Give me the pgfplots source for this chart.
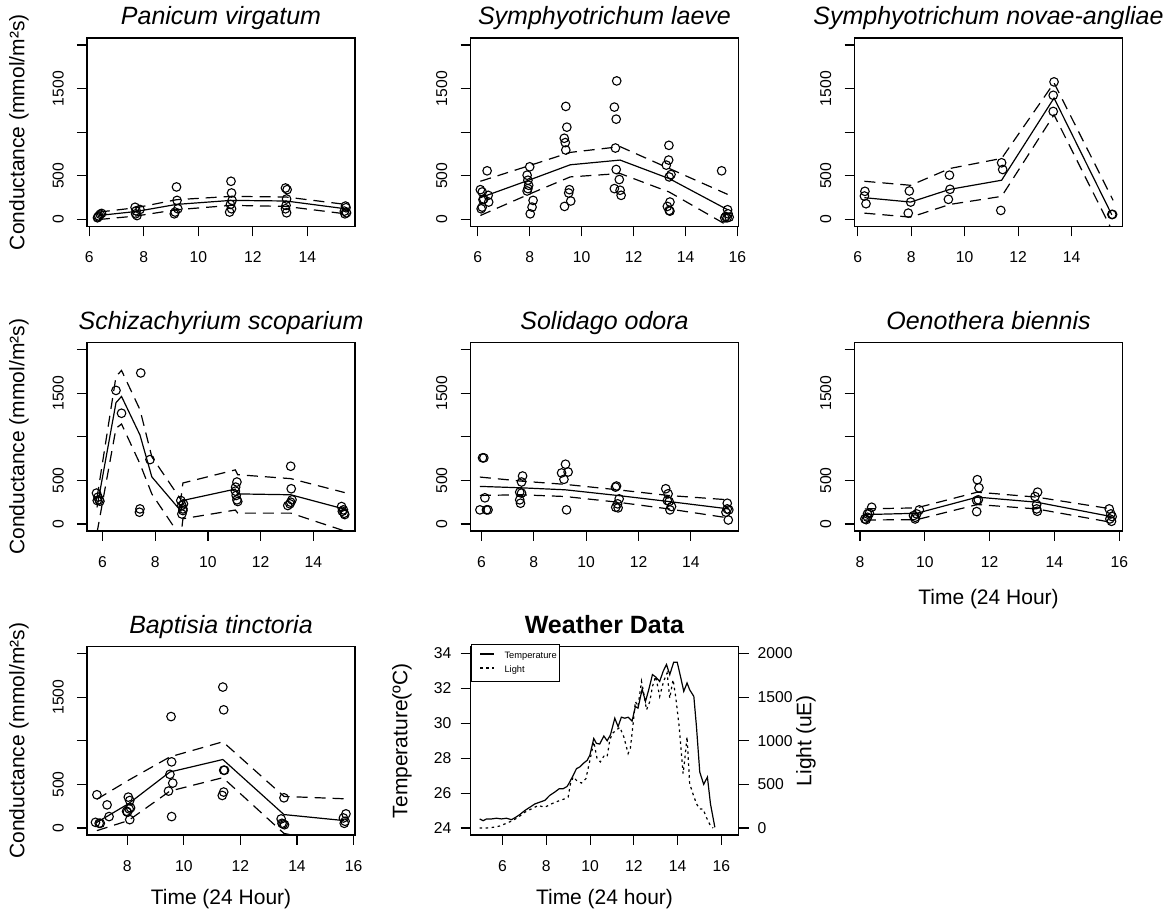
\documentclass[border=0pt]{standalone}
\usepackage{fontspec}
\setmainfont{Liberation Sans}
\usepackage{pgfplots}
\pgfplotsset{compat=1.18}

\pgfplotsset{
  rbase/.style={
    scale only axis, width=268pt, height=188.5pt,
    axis line style={line width=1.1pt},
    every tick/.style={black, line width=1.1pt},
    tick align=outside, tick pos=left, major tick length=10pt,
    /pgf/number format/assume math mode=true,
    /pgf/number format/1000 sep={},
    tick label style={font=\fontsize{15.7}{18}\selectfont},
    xticklabel style={anchor=base, inner sep=0pt},
    xticklabel shift=26.5pt,
    label style={font=\fontsize{21}{25}\selectfont},
  },
  cond/.style={rbase,
    ymin=-80, ymax=2080,
    ytick={0,500,1000,1500,2000}, yticklabels={0,500,,1500,},
    yticklabel style={rotate=90, anchor=south, inner sep=0pt},
    yticklabel shift=13pt,
    title style={at={(axis description cs:0.5,1)}, anchor=base, yshift=7pt,
                 font=\fontsize{25}{30}\selectfont\itshape},
  },
  condlab/.style={ylabel={Conductance (mmol/m²s)},
    ylabel style={at={(axis description cs:-0.2537,0.5)}, anchor=center}},
  timelab/.style={xlabel={Time (24 Hour)},
    xlabel style={at={(axis description cs:0.5,#1)}, anchor=center}},
  pts/.style={black, only marks, mark=o, mark size=4.3pt, mark options={line width=1.1pt}},
  fit/.style={black, line width=1.2pt, no marks},
  ci/.style={black, line width=1.2pt, no marks, dash pattern=on 11pt off 7pt},
}

\begin{document}
\begin{tikzpicture}
\useasboundingbox (0pt,0pt) rectangle (1167pt,917pt);

% ---------------- Panicum virgatum
\begin{axis}[cond, condlab, at={(87pt,690.5pt)}, anchor=south west,
  xmin=5.916, xmax=15.75, xtick={6,8,...,14}, title={Panicum virgatum}]
\addplot[pts] coordinates {(6.30,20) (6.35,40) (6.40,60) (6.45,70) (6.32,30)
 (7.68,140) (7.72,100) (7.70,65) (7.75,45) (7.86,115)
 (9.20,373) (9.22,219) (9.25,123) (9.15,85) (9.12,65)
 (11.20,438) (11.22,304) (11.24,219) (11.18,173) (11.22,123) (11.15,85)
 (13.20,361) (13.26,342) (13.24,235) (13.22,162) (13.20,123) (13.24,77)
 (15.40,154) (15.42,135) (15.36,96) (15.44,77) (15.38,65)};
\addplot[fit] coordinates {(6.35,46) (7.72,92) (9.2,173) (11.2,219) (13.22,212) (15.4,123)};
\addplot[ci] coordinates {(6.35,85) (7.72,135) (9.2,227) (11.2,265) (13.22,258) (15.4,173)};
\addplot[ci] coordinates {(6.35,0) (7.72,40) (9.2,112) (11.2,162) (13.22,150) (15.4,65)};
\end{axis}

% ---------------- Symphyotrichum laeve
\begin{axis}[cond, at={(470.5pt,690.5pt)}, anchor=south west,
  xmin=5.72, xmax=16.04, xtick={6,8,...,16}, title={Symphyotrichum laeve}]
\addplot[pts] coordinates {(6.10,342) (6.17,315) (6.36,558) (6.40,277) (6.42,200) (6.20,227) (6.23,235) (6.17,142) (6.13,123)
 (8.00,604) (7.90,508) (7.93,450) (7.96,392) (7.93,354) (7.90,327) (8.13,219) (8.09,142) (8.02,65)
 (9.39,1296) (9.43,1058) (9.33,931) (9.37,881) (9.39,796) (9.53,342) (9.50,304) (9.58,212) (9.34,150)
 (11.35,1588) (11.26,1288) (11.33,1150) (11.30,819) (11.33,573) (11.45,458) (11.26,354) (11.48,335) (11.52,277)
 (13.36,850) (13.35,681) (13.26,623) (13.44,515) (13.37,488) (13.40,200) (13.30,150) (13.37,104) (13.40,96)
 (15.39,558) (15.62,112) (15.64,65) (15.55,35) (15.60,19) (15.68,27) (15.51,19)};
\addplot[fit] coordinates {(6.10,250) (7.96,450) (9.56,627) (11.48,681) (13.37,469) (15.62,112)};
\addplot[ci] coordinates {(6.10,438) (7.96,615) (9.56,769) (11.48,835) (13.37,585) (15.62,288)};
\addplot[ci] coordinates {(6.10,46) (7.96,288) (9.56,488) (11.48,527) (13.37,315) (15.62,-69)};
\end{axis}

% ---------------- Symphyotrichum novae-angliae
\begin{axis}[cond, at={(854.5pt,690.5pt)}, anchor=south west,
  xmin=5.88, xmax=15.90, xtick={6,8,...,14}, title={Symphyotrichum novae-angliae}]
\addplot[pts] coordinates {(6.27,323) (6.25,269) (6.31,181) (7.93,327) (7.98,200) (7.89,73)
 (9.43,508) (9.45,346) (9.39,231) (11.38,650) (11.42,573) (11.35,104)
 (13.34,1577) (13.31,1423) (13.31,1238) (15.50,58) (15.53,58)};
\addplot[fit] coordinates {(6.25,250) (7.98,200) (9.45,346) (11.38,450) (13.34,1392) (15.50,54)};
\addplot[ci] coordinates {(6.25,438) (7.98,392) (9.45,585) (11.38,700) (13.34,1565) (15.55,219)};
\addplot[ci] coordinates {(6.25,73) (7.98,27) (9.45,173) (11.38,265) (13.34,1200) (15.45,-88)};
\end{axis}

% ---------------- Schizachyrium scoparium
\begin{axis}[cond, condlab, at={(87pt,386pt)}, anchor=south west,
  xmin=5.41, xmax=15.58, xtick={6,8,...,14}, title={Schizachyrium scoparium}]
\addplot[pts] coordinates {(5.77,354) (5.83,308) (5.87,277) (5.90,262) (5.80,269)
 (6.51,1531) (6.72,1269) (7.45,1731) (7.80,738) (7.40,135) (7.42,173)
 (8.97,269) (9.01,212) (9.05,173) (9.05,154) (9.01,115) (9.07,231)
 (11.10,481) (11.05,423) (11.04,377) (11.07,327) (11.10,277) (11.13,258)
 (13.14,662) (13.16,404) (13.19,277) (13.14,250) (13.03,212) (13.11,231)
 (15.07,200) (15.14,162) (15.17,123) (15.19,108) (15.10,146)};
\addplot[fit] coordinates {(5.79,190) (6.51,1390) (6.72,1462) (7.42,1020) (7.87,540) (8.97,150) (9.05,270)
 (11.04,400) (11.13,345) (13.14,335) (15.19,170)};
\addplot[ci] coordinates {(5.79,300) (6.51,1690) (6.72,1760) (7.42,1310) (7.87,770) (8.97,280) (9.05,470)
 (11.04,620) (11.13,565) (13.14,520) (15.19,360)};
\addplot[ci] coordinates {(5.79,-100) (6.51,1096) (6.72,1146) (7.42,690) (7.87,345) (8.97,-150) (9.05,60)
 (11.04,160) (11.13,125) (13.14,125) (15.19,-80)};
\end{axis}

% ---------------- Solidago odora
\begin{axis}[cond, at={(470.5pt,386pt)}, anchor=south west,
  xmin=5.58, xmax=15.82, xtick={6,8,...,14}, title={Solidago odora}]
\addplot[pts] coordinates {(6.04,758) (6.09,758) (5.94,162) (6.13,300) (6.19,162) (6.25,162)
 (7.57,550) (7.53,481) (7.46,365) (7.53,354) (7.46,277) (7.49,238)
 (9.21,685) (9.06,585) (9.31,596) (9.15,512) (9.25,162)
 (11.16,435) (11.12,423) (11.26,288) (11.20,231) (11.13,192) (11.22,185)
 (13.04,404) (13.13,346) (13.10,269) (13.17,258) (13.26,200) (13.20,162)
 (15.39,238) (15.39,173) (15.34,135) (15.45,162) (15.43,46)};
\addplot[fit] coordinates {(5.94,431) (7.5,415) (9.2,392) (11.2,327) (13.15,258) (15.45,173)};
\addplot[ci] coordinates {(5.94,538) (7.5,492) (9.2,454) (11.2,392) (13.15,327) (15.45,277)};
\addplot[ci] coordinates {(5.94,327) (7.5,335) (9.2,315) (11.2,250) (13.15,173) (15.45,69)};
\end{axis}

% ---------------- Oenothera biennis
\begin{axis}[cond, timelab=-0.361, at={(854.5pt,386pt)}, anchor=south west,
  xmin=7.83, xmax=16.10, xtick={8,10,...,16}, title={Oenothera biennis}]
\addplot[pts] coordinates {(8.15,58) (8.23,77) (8.29,123) (8.36,192) (8.23,115) (8.19,50)
 (9.70,77) (9.75,115) (9.83,162) (9.65,96) (9.70,58)
 (11.62,508) (11.67,415) (11.60,269) (11.65,277) (11.60,142)
 (13.48,365) (13.40,315) (13.45,223) (13.45,173) (13.47,146)
 (15.69,173) (15.74,115) (15.78,85) (15.71,58) (15.76,31)};
\addplot[fit] coordinates {(8.15,108) (9.75,123) (11.62,308) (13.45,250) (15.76,85)};
\addplot[ci] coordinates {(8.15,173) (9.75,185) (11.62,365) (13.45,308) (15.76,173)};
\addplot[ci] coordinates {(8.15,46) (9.75,50) (11.62,223) (13.45,173) (15.76,19)};
\end{axis}

% ---------------- Baptisia tinctoria
\begin{axis}[cond, condlab, timelab=-0.342, at={(87pt,82pt)}, anchor=south west,
  xmin=6.58, xmax=16.05, xtick={8,10,...,16}, title={Baptisia tinctoria}]
\addplot[pts] coordinates {(6.93,381) (6.88,65) (7.01,54) (7.05,54) (7.29,265) (7.36,131)
 (8.04,354) (8.09,315) (8.12,231) (8.07,219) (7.98,192) (8.01,181) (8.09,96)
 (9.55,1277) (9.57,758) (9.51,615) (9.61,515) (9.46,423) (9.57,131)
 (11.38,1615) (11.41,1354) (11.44,662) (11.41,662) (11.41,412) (11.36,373)
 (13.54,346) (13.44,104) (13.51,46) (13.56,38) (13.47,54)
 (15.67,54) (15.70,77) (15.73,162) (15.64,115)};
\addplot[fit] coordinates {(6.93,65) (8.04,277) (9.51,642) (11.38,785) (13.54,154) (15.67,85)};
\addplot[ci] coordinates {(6.93,330) (8.04,546) (9.51,815) (11.38,988) (13.54,362) (15.67,335)};
\addplot[ci] coordinates {(6.93,-30) (8.04,85) (9.51,423) (11.38,577) (13.54,-62) (15.67,-200)};
\end{axis}

% ---------------- Weather data: temperature (left axis)
\begin{axis}[rbase, at={(470.5pt,82pt)}, anchor=south west,
  xmin=4.54, xmax=16.78, xtick={6,8,...,16},
  ymin=23.6, ymax=34.4, ytick={24,26,...,34},
  yticklabel style={anchor=east, inner sep=0pt}, yticklabel shift=9pt,
  title={Weather Data},
  title style={at={(axis description cs:0.5,1)}, anchor=base, yshift=7pt,
               font=\fontsize{25}{30}\selectfont\bfseries},
  xlabel={Time (24 hour)}, xlabel style={at={(axis description cs:0.5,-0.342)}, anchor=center},
  ylabel={Temperature(ºC)}, ylabel style={at={(axis description cs:-0.2556,0.5)}, anchor=center},
  legend style={at={(axis description cs:0,1)}, anchor=north west, yshift=2.5pt,
                draw=black, line width=1pt,
                font=\fontsize{9.3}{11}\selectfont, inner xsep=3pt, inner ysep=7pt,
                row sep=4.8pt, column sep=10pt,
                nodes={inner sep=0pt, text height=6.7pt, text depth=1.8pt},
                cells={anchor=west}},
  legend image code/.code={\path[draw=none, fill=none] (0pt,0pt) rectangle (20.5pt,5pt);
                           \draw[#1, line width=1.1pt] (6pt,2.5pt) -- (20pt,2.5pt);},
]
\addplot[fit] coordinates {(4.96,24.52) (5.12,24.42) (5.27,24.52) (5.50,24.52) (5.73,24.56) (5.95,24.52)
 (6.18,24.56) (6.41,24.48) (6.56,24.58) (6.79,24.77) (7.02,25.00) (7.25,25.19) (7.48,25.38)
 (7.70,25.48) (7.93,25.58) (8.16,25.87) (8.39,26.06) (8.59,26.25) (8.77,26.25) (8.95,26.38)
 (9.07,26.63) (9.23,27.02) (9.38,27.40) (9.53,27.50) (9.68,27.69) (9.87,27.88) (9.99,28.17)
 (10.17,29.13) (10.29,28.85) (10.44,28.81) (10.63,29.27) (10.78,29.00) (10.93,29.33)
 (11.13,30.29) (11.28,29.81) (11.43,30.35) (11.59,30.29) (11.74,30.35) (11.92,30.13)
 (12.07,30.96) (12.19,30.87) (12.38,31.96) (12.53,31.25) (12.68,31.92) (12.85,32.79)
 (13.00,32.65) (13.18,32.40) (13.34,32.98) (13.49,33.37) (13.64,32.79) (13.82,33.50)
 (13.98,33.50) (14.13,32.69) (14.28,31.83) (14.43,32.31) (14.55,31.92) (14.74,31.54)
 (14.86,29.81) (15.01,27.21) (15.19,26.50) (15.36,26.92) (15.50,25.38) (15.70,24.04)};
\addlegendentry{Temperature}
\addlegendimage{black, line width=1.2pt, dash pattern=on 2.5pt off 3.5pt}
\addlegendentry{Light}
\end{axis}

% ---------------- Weather data: light (right axis)
\begin{axis}[scale only axis, width=268pt, height=188.5pt, at={(470.5pt,82pt)}, anchor=south west,
  xmin=4.54, xmax=16.78, axis x line=none, axis y line*=right,
  ymin=-80, ymax=2080, ytick={0,500,...,2000},
  axis line style={line width=1.1pt}, every tick/.style={black, line width=1.1pt},
  tick align=outside, major tick length=10pt,
  /pgf/number format/assume math mode=true,
  /pgf/number format/1000 sep={},
  tick label style={font=\fontsize{15.7}{18}\selectfont},
  yticklabel style={anchor=west, inner sep=0pt}, yticklabel shift=9pt,
  ylabel={Light (uE)}, label style={font=\fontsize{21}{25}\selectfont},
  ylabel style={at={(axis description cs:1.252,0.5)}, anchor=center},
]
\addplot[black, line width=1.2pt, no marks, dash pattern=on 2.5pt off 3.5pt] coordinates {
 (4.96,0) (5.27,0) (5.57,8) (5.88,23) (6.18,54) (6.46,85) (6.72,123) (7.02,181) (7.32,219)
 (7.63,258) (7.93,238) (8.24,277) (8.54,308) (8.85,335) (9.00,354) (9.10,500) (9.23,585)
 (9.38,546) (9.61,515) (9.81,565) (9.96,738) (10.06,854) (10.17,988) (10.32,796) (10.47,758)
 (10.63,823) (10.78,815) (10.90,1008) (11.02,1085) (11.21,1123) (11.36,1154) (11.54,1046)
 (11.74,854) (11.84,911) (11.97,1200) (12.07,1450) (12.19,1392) (12.35,1681) (12.45,1546)
 (12.58,1354) (12.73,1450) (12.85,1623) (13.00,1738) (13.18,1508) (13.36,1681) (13.52,1777)
 (13.64,1488) (13.79,1700) (13.91,1508) (14.07,1162) (14.25,623) (14.33,796) (14.43,1046)
 (14.55,508) (14.70,392) (14.86,277) (15.01,219) (15.16,219) (15.31,123) (15.50,27) (15.62,0)};
\end{axis}
\end{tikzpicture}
\end{document}
